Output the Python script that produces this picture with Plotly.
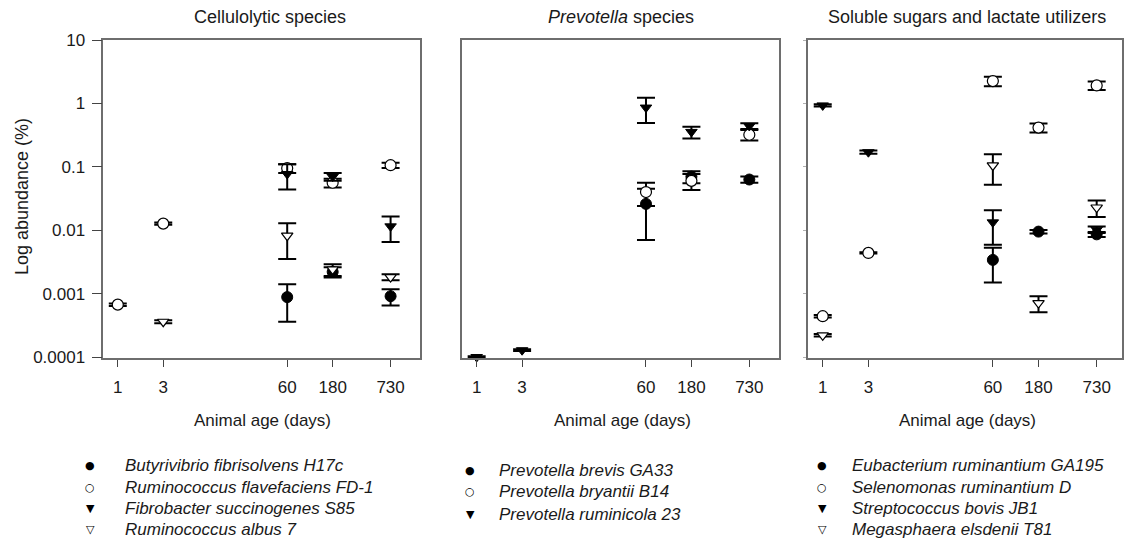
import plotly.graph_objects as go

# ---------------------------------------------------------------- data
ages = [1, 3, 60, 180, 730]
age_labels = ["1", "3", "60", "180", "730"]

# Cellulolytic species (mean abundance %, SE)
butyrivibrio = [None, None, 0.00088, 0.0022, 0.00091]
butyrivibrio_se = [None, None, 0.00052, 0.0004, 0.00026]
flavefaciens = [0.00067, 0.0127, 0.095, 0.056, 0.106]
flavefaciens_se = [0.00003, 0.0005, 0.015, 0.009, 0.01]
fibrobacter = [None, None, 0.077, 0.07, 0.0115]
fibrobacter_se = [None, None, 0.033, 0.01, 0.005]
albus = [None, 0.00036, 0.0082, 0.0024, 0.00182]
albus_se = [None, 0.00002, 0.0047, 0.0005, 0.0002]

# Prevotella species
brevis = [None, None, 0.026, 0.07, 0.063]
brevis_se = [None, None, 0.019, 0.015, 0.007]
bryantii = [None, None, 0.040, 0.06, 0.32]
bryantii_se = [None, None, 0.016, 0.017, 0.06]
ruminicola = [0.0001, 0.000128, 0.86, 0.355, 0.44]
ruminicola_se = [0.000003, 0.000004, 0.37, 0.075, 0.045]

# Soluble sugars and lactate utilizers
eubacterium = [None, None, 0.0034, 0.0095, 0.0086]
eubacterium_se = [None, None, 0.0019, 0.0006, 0.0008]
selenomonas = [0.00044, 0.00438, 2.25, 0.415, 1.92]
selenomonas_se = [0.00002, 0.0001, 0.38, 0.068, 0.3]
streptococcus = [0.93, 0.17, 0.0133, None, 0.0102]
streptococcus_se = [0.04, 0.01, 0.0074, None, 0.0012]
megasphaera = [0.00022, None, 0.105, 0.00071, 0.0228]
megasphaera_se = [0.00001, None, 0.053, 0.0002, 0.0066]

y_tick_vals = [0.0001, 0.001, 0.01, 0.1, 1, 10]
y_tick_text = ["0.0001", "0.001", "0.01", "0.1", "1", "10"]

panel_titles = ["Cellulolytic species", "<i>Prevotella</i> species",
                "Soluble sugars and lactate utilizers"]
x_title = "Animal age (days)"
y_title = "Log abundance (%)"

panels = [
    [("Butyrivibrio fibrisolvens H17c", butyrivibrio, butyrivibrio_se, "filled_circle"),
     ("Ruminococcus flavefaciens FD-1", flavefaciens, flavefaciens_se, "open_circle"),
     ("Fibrobacter succinogenes S85", fibrobacter, fibrobacter_se, "filled_tri"),
     ("Ruminococcus albus 7", albus, albus_se, "open_tri")],
    [("Prevotella brevis GA33", brevis, brevis_se, "filled_circle"),
     ("Prevotella bryantii B14", bryantii, bryantii_se, "open_circle"),
     ("Prevotella ruminicola 23", ruminicola, ruminicola_se, "filled_tri")],
    [("Eubacterium ruminantium GA195", eubacterium, eubacterium_se, "filled_circle"),
     ("Selenomonas ruminantium D", selenomonas, selenomonas_se, "open_circle"),
     ("Streptococcus bovis JB1", streptococcus, streptococcus_se, "filled_tri"),
     ("Megasphaera elsdenii T81", megasphaera, megasphaera_se, "open_tri")],
]

# ---------------------------------------------------------------- style
W, H = 1124, 547
FONT = "Arial, 'Liberation Sans', Helvetica, sans-serif"
FRAME = "#6e6e6e"
INK = "#1a1a1a"

marker_styles = {
    "filled_circle": dict(symbol="circle", size=11, color="black",
                          line=dict(color="black", width=1)),
    "open_circle": dict(symbol="circle", size=11, color="white",
                        line=dict(color="black", width=1.2)),
    "filled_tri": dict(symbol="triangle-down", size=10, color="black",
                       line=dict(color="black", width=1)),
    "open_tri": dict(symbol="triangle-down", size=10, color="white",
                     line=dict(color="black", width=1.2)),
}
legend_glyphs = {"filled_circle": "●", "open_circle": "○",
                 "filled_tri": "▼", "open_tri": "▽"}


def px_x(x):
    return x / W


def px_y(y):
    return 1 - y / H


# panel frames in pixels: (left, right), shared top/bottom
panel_px = [(103.3, 420.0), (462.0, 779.0), (808.0, 1122.0)]
x_ranges = [[-0.152, 3.172], [-0.154, 3.175], [-0.154, 3.128]]
# log range reaches a hair below 1e-4 so markers sitting on 1e-4 stay visible
y_range = [-4.015, 1.0]
top_px = 40.0
bottom_px = 357.0 + 0.015 * (357.0 - 40.0) / 5.0

fig = go.Figure()

for i, series in enumerate(panels):
    ax = "" if i == 0 else str(i + 1)
    for name, vals, se, kind in series:
        fig.add_trace(go.Scatter(
            x=ages, y=vals, mode="markers", name=name,
            xaxis="x" + ax, yaxis="y" + ax,
            marker=marker_styles[kind],
            error_y=dict(type="data", array=se, symmetric=True,
                         color="black", thickness=2, width=9),
            cliponaxis=False, showlegend=False,
        ))

layout = dict(
    template="none",
    width=W, height=H,
    margin=dict(l=0, r=0, t=0, b=0, pad=0, autoexpand=False),
    paper_bgcolor="white", plot_bgcolor="white",
    font=dict(family=FONT, size=17, color=INK),
    showlegend=False,
)

for i, (l, r) in enumerate(panel_px):
    key = "" if i == 0 else str(i + 1)
    layout["xaxis" + key] = dict(
        domain=[px_x(l), px_x(r)], anchor="y" + key,
        type="log", range=x_ranges[i], automargin=False,
        tickvals=ages, ticktext=age_labels,
        ticks="outside", ticklen=7, tickwidth=1.3, tickcolor="#444",
        ticklabelstandoff=6,
        showline=True, linecolor=FRAME, linewidth=1.5, mirror=True,
        showgrid=False, zeroline=False,
        tickfont=dict(family=FONT, size=17, color=INK),
    )
    yax = dict(
        domain=[px_y(bottom_px), px_y(top_px)], anchor="x" + key,
        type="log", range=y_range, automargin=False,
        tickvals=y_tick_vals, ticktext=y_tick_text,
        showline=True, linecolor=FRAME, linewidth=1.5, mirror=True,
        showgrid=False, zeroline=False,
        tickfont=dict(family=FONT, size=17, color=INK),
    )
    if i == 0:
        yax.update(ticks="outside", ticklen=10, tickwidth=1.3, tickcolor="#444",
                   ticklabelstandoff=3)
    elif i == 1:
        yax.update(ticks="", showticklabels=False)
    else:
        yax.update(ticks="outside", ticklen=3, tickwidth=1, tickcolor="#b0b0b0",
                   showticklabels=False)
    layout["yaxis" + key] = yax

fig.update_layout(**layout)

annotations = []
title_centers = [270, 621, 967]
xtitle_centers = [262, 622, 967]
for i in range(3):
    annotations.append(dict(
        text=panel_titles[i], x=px_x(title_centers[i]), y=px_y(17),
        xref="paper", yref="paper", showarrow=False,
        xanchor="center", yanchor="middle",
        font=dict(family=FONT, size=18, color=INK)))
    annotations.append(dict(
        text=x_title, x=px_x(xtitle_centers[i]), y=px_y(420),
        xref="paper", yref="paper", showarrow=False,
        xanchor="center", yanchor="middle",
        font=dict(family=FONT, size=17, color=INK)))

annotations.append(dict(
    text=y_title, x=px_x(22), y=px_y(197), xref="paper", yref="paper",
    showarrow=False, textangle=-90, xanchor="center", yanchor="middle",
    font=dict(family=FONT, size=18, color=INK)))

# species keys beneath each panel
key_columns = [
    dict(sym_x=90, text_x=123, rows=[465, 487, 508, 529]),
    dict(sym_x=470, text_x=497, rows=[470, 492, 514]),
    dict(sym_x=822, text_x=850, rows=[465, 487, 508, 529]),
]
for col, series in zip(key_columns, panels):
    for row_y, (name, _, _, kind) in zip(col["rows"], series):
        annotations.append(dict(
            text=legend_glyphs[kind], x=px_x(col["sym_x"]), y=px_y(row_y),
            xref="paper", yref="paper", showarrow=False,
            xanchor="center", yanchor="middle",
            font=dict(family="DejaVu Sans", size=11, color="black")))
        annotations.append(dict(
            text="<i>" + name + "</i>", x=px_x(col["text_x"]), y=px_y(row_y),
            xref="paper", yref="paper", showarrow=False,
            xanchor="left", yanchor="middle",
            font=dict(family=FONT, size=17, color=INK)))

fig.update_layout(annotations=annotations)

fig.write_html("out.html")
